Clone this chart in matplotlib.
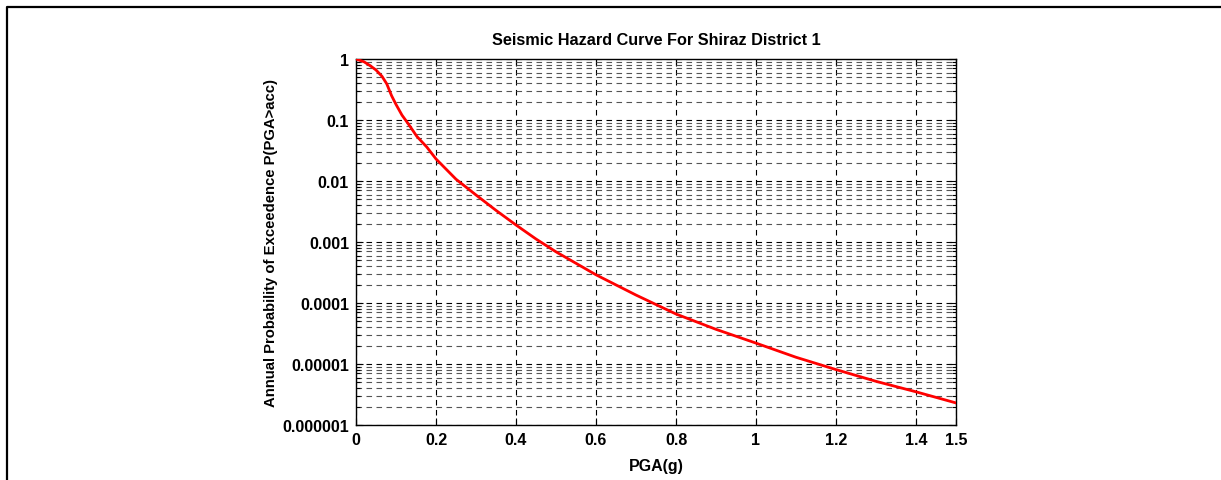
import matplotlib
matplotlib.use('Agg')
import matplotlib.pyplot as plt
import numpy as np
from matplotlib.ticker import FixedLocator, LogLocator, NullFormatter
from matplotlib.lines import Line2D

# hazard curve
pga = [0, 0.02, 0.035, 0.05, 0.065, 0.077, 0.089, 0.10, 0.115, 0.131, 0.152, 0.177, 0.20,
       0.25, 0.30, 0.35, 0.40, 0.45, 0.50, 0.60, 0.70, 0.80, 0.90, 1.00,
       1.10, 1.20, 1.30, 1.40, 1.50]
prob = [1.0, 0.90, 0.78, 0.66, 0.52, 0.39, 0.25, 0.18, 0.12, 0.086, 0.054, 0.036, 0.023,
        0.0107, 0.0059, 0.0033, 0.0019, 0.00112, 0.00069, 0.00029, 0.000135, 6.6e-5, 3.7e-5, 2.2e-5,
        1.29e-5, 8.1e-6, 5.2e-6, 3.5e-6, 2.3e-6]

xticks = [0, 0.2, 0.4, 0.6, 0.8, 1.0, 1.2, 1.4, 1.5]
xticklabels = ['0', '0.2', '0.4', '0.6', '0.8', '1', '1.2', '1.4', '1.5']
yticks = [1e-6, 1e-5, 1e-4, 1e-3, 1e-2, 1e-1, 1]
yticklabels = ['0.000001', '0.00001', '0.0001', '0.001', '0.01', '0.1', '1']

plt.rcParams['font.family'] = ['Liberation Sans', 'DejaVu Sans']
plt.rcParams['font.weight'] = 'bold'

fig = plt.figure(figsize=(12.21, 4.81), dpi=100)
ax = fig.add_axes([356/1221, 1-426/481, 600/1221, 366/481])

ax.plot(pga, prob, color='red', lw=2.0, zorder=3)
ax.set_yscale('log')
ax.set_xlim(0, 1.5)
ax.set_ylim(1e-6, 1)

ax.xaxis.set_major_locator(FixedLocator(xticks))
ax.set_xticklabels(xticklabels)
ax.yaxis.set_major_locator(FixedLocator(yticks))
ax.set_yticklabels(yticklabels)
ax.yaxis.set_minor_locator(LogLocator(base=10, subs=np.arange(2, 10), numticks=20))
ax.yaxis.set_minor_formatter(NullFormatter())

dash = (0, (5, 4))
ax.grid(True, which='major', axis='both', color='black', lw=0.8, linestyle=dash)
ax.grid(True, which='minor', axis='y', color='#555555', lw=0.8, linestyle=dash)

ax.tick_params(which='both', direction='in', top=True, right=True, labelsize=11.5, width=0.8)
ax.tick_params(which='major', length=5, pad=5)
ax.tick_params(which='minor', length=3)
for s in ax.spines.values():
    s.set_linewidth(1.0)

ax.set_title('Seismic Hazard Curve For Shiraz District 1', fontsize=11.7, fontweight='bold', pad=11)
ax.set_xlabel('PGA(g)', fontsize=11.5, fontweight='bold', labelpad=8)
ax.set_ylabel('Annual Probability of Exceedence P(PGA>acc)', fontsize=10.7, fontweight='bold', labelpad=3)

# outer frame of the figure (only left and top visible)
fx = 6.5/1221
fy = 1 - 7.5/481
fig.add_artist(Line2D([fx, fx, 1.0], [0.0, fy, fy], transform=fig.transFigure, color='black', lw=1.6))

fig.savefig('out.png', dpi=100)
